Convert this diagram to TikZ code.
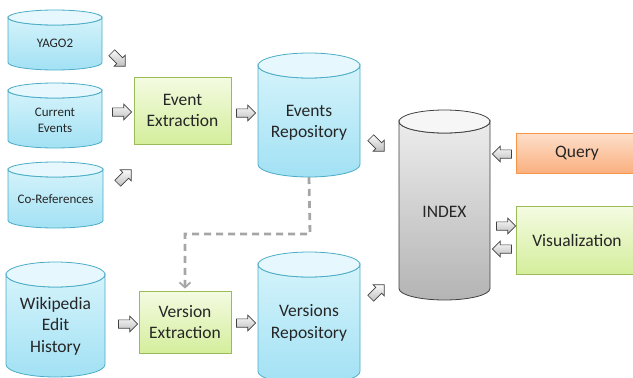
\documentclass[tikz,border=0pt]{standalone}
\usepackage{fontspec}
\setmainfont{Carlito}
\usetikzlibrary{shapes.arrows,arrows.meta,calc}
\definecolor{cylline}{HTML}{4BACC6}
\definecolor{cyltop}{HTML}{E6F8FD}
\definecolor{cylbodytop}{HTML}{D4F3FB}
\definecolor{cylbodybot}{HTML}{A2E1F4}
\definecolor{idxline}{HTML}{404040}
\definecolor{idxtop}{HTML}{F6F6F6}
\definecolor{idxbodytop}{HTML}{ECECEC}
\definecolor{idxbodybot}{HTML}{B4B4B4}
\definecolor{grline}{HTML}{9BBB59}
\definecolor{grtop}{HTML}{F4FBE2}
\definecolor{grbot}{HTML}{D4EE9C}
\definecolor{orline}{HTML}{F79646}
\definecolor{ortop}{HTML}{FDDFCA}
\definecolor{orbot}{HTML}{FAB080}
\definecolor{arrline}{HTML}{404040}
\definecolor{arrtop}{HTML}{FAFAFA}
\definecolor{arrbot}{HTML}{BFBFBF}
\definecolor{dashcol}{HTML}{A6A6A6}
\definecolor{txt}{HTML}{262626}
\newcommand\mycyl[7]{%
  \path[#1 body] (#3-#6,#4+#7) -- (#3-#6,#5-#7)
    arc[start angle=180,end angle=0,x radius=#6,y radius=#7]
    -- (#3+#6,#4+#7)
    arc[start angle=0,end angle=180,x radius=#6,y radius=#7] -- cycle;
  \path[#1 top] (#3,#4+#7) ellipse[x radius=#6,y radius=#7];
  \coordinate (#2-bottom) at (#3,#5);
  \coordinate (#2-top) at (#3,#4);
}
\begin{document}
\begin{tikzpicture}[x=1pt,y=-1pt,
  blue body/.style={draw=cylline,line width=0.8pt,top color=cylbodytop,bottom color=cylbodybot},
  blue top/.style={draw=cylline,line width=0.8pt,fill=cyltop},
  gray body/.style={draw=idxline,line width=0.8pt,top color=idxbodytop,bottom color=idxbodybot},
  gray top/.style={draw=idxline,line width=0.8pt,fill=idxtop},
  bigtxt/.style={font=\fontsize{17.5}{21.5}\selectfont,text=txt,align=center},
  smalltxt/.style={font=\fontsize{13}{16}\selectfont,text=txt,align=center},
  greenbox/.style={rectangle,draw=grline,line width=0.8pt,top color=grtop,bottom color=grbot,bigtxt},
  orangebox/.style={rectangle,draw=orline,line width=0.8pt,top color=ortop,bottom color=orbot,bigtxt},
  blockarrow/.style={single arrow,draw=arrline,line width=0.7pt,top color=arrtop,bottom color=arrbot,
    minimum height=19pt,inner sep=3.8pt,single arrow head extend=3.6pt},
  dashline/.style={draw=dashcol,line width=2.8pt,dash pattern=on 7pt off 5pt,
    -{Straight Barb[length=5pt,width=11pt,line width=1.8pt]},shorten >=2pt}
]
\useasboundingbox (0,0) rectangle (633,378);
% cylinders
\mycyl{blue}{yago}{55}{10}{70}{47}{7.5}
\node[smalltxt] (yagot) at (55,43) {YAGO2};
\mycyl{blue}{cur}{55}{83}{148}{47}{7.5}
\node[smalltxt] (curt) at (55,120) {Current\\Events};
\mycyl{blue}{coref}{55.5}{162}{228}{47.5}{7.5}
\node[smalltxt] (coreft) at (55.5,199) {Co-References};
\mycyl{blue}{wiki}{55.5}{262}{377}{49.5}{12.5}
\node[bigtxt] (wikit) at (55.5,326) {Wikipedia\\Edit\\History};
\mycyl{blue}{er}{309}{53}{177}{51}{12.5}
\node[bigtxt] (ert) at (309,123) {Events\\Repository};
\mycyl{blue}{vr}{309}{252}{384}{51}{12.5}
\node[bigtxt] (vrt) at (309,323) {Versions\\Repository};
\mycyl{gray}{idx}{444.5}{110}{300}{45.5}{11.5}
\node[bigtxt] (idxt) at (444.5,212) {INDEX};
% boxes
\node[greenbox,minimum width=97pt,minimum height=67pt] (ee) at (182.5,110.5) {Event\\Extraction};
\node[greenbox,minimum width=92pt,minimum height=62pt] (ve) at (185,322) {Version\\Extraction};
\node[orangebox,minimum width=122pt,minimum height=40pt,text width=120pt,inner xsep=0pt] (q) at (577,153) {Query};
\node[greenbox,minimum width=122pt,minimum height=68pt,text width=120pt,inner xsep=0pt] (vis) at (577,240) {Visualization};
% block arrows
\node[blockarrow,rotate=-45] (a1) at (117,58) {};
\node[blockarrow] (a2) at (120,112) {};
\node[blockarrow,rotate=45] (a3) at (123,178) {};
\node[blockarrow] (a4) at (244,113) {};
\node[blockarrow,rotate=-45] (a5) at (376,143) {};
\node[blockarrow,rotate=45] (a6) at (376,293) {};
\node[blockarrow] (a7) at (126,324) {};
\node[blockarrow] (a8) at (244,323) {};
\node[blockarrow,rotate=180] (a9) at (504,154) {};
\node[blockarrow] (a10) at (504,226) {};
\node[blockarrow,rotate=180] (a11) at (504,249) {};
% dashed connector
\coordinate (bend) at (310,234);
\draw[dashline] (er-bottom) -- (bend) -| (ve.north);
\end{tikzpicture}
\end{document}
